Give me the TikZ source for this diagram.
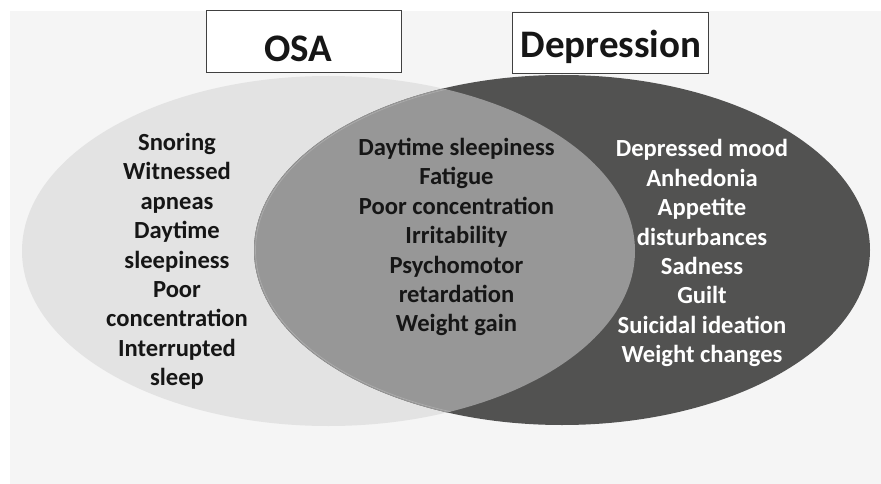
\documentclass[tikz,border=0pt]{standalone}
\usepackage{fontspec}
\setmainfont{Carlito}
\definecolor{bgpanel}{HTML}{F5F5F5}
\definecolor{osafill}{HTML}{E3E3E3}
\definecolor{depfill}{HTML}{525251}
\definecolor{bothfill}{HTML}{979797}
\definecolor{rimline}{HTML}{ABABAB}
\definecolor{inktext}{HTML}{161616}
\tikzset{
  titlebox/.style={draw=black!75, line width=0.8pt, fill=white, inner sep=0pt, anchor=north west},
  titletext/.style={font=\fontsize{39}{46}\selectfont\bfseries, text=inktext, inner sep=0pt, anchor=base},
  listtext/.style={font=\fontsize{24.6}{29.4}\selectfont\bfseries, align=center, inner sep=0pt, anchor=north},
}
\begin{document}
\begin{tikzpicture}[x=1pt, y=-1pt]
  % page and grey panel
  \useasboundingbox (0,0) rectangle (881,484);
  \fill[white] (0,0) rectangle (881,484);
  \fill[bgpanel] (10,11) rectangle (881,484);

  % the two sets
  \fill[osafill] (328.5,251) ellipse [x radius=306.5pt, y radius=175pt];
  \fill[depfill] (562,250) ellipse [x radius=308pt, y radius=175pt];
  % their overlap
  \begin{scope}
    \clip (328.5,251) ellipse [x radius=306.5pt, y radius=175pt];
    \fill[bothfill] (562,250) ellipse [x radius=308pt, y radius=175pt];
    \draw[rimline, line width=0.7pt] (562,250) ellipse [x radius=306.5pt, y radius=173.5pt];
  \end{scope}

  % headings
  \node[titlebox, minimum width=195pt, minimum height=62pt] (osabox) at (206,10) {};
  \node[titlebox, minimum width=196pt, minimum height=61pt] (depbox) at (512,12) {};
  \node[titletext] (osatitle) at (298.5,62) {OSA};
  \node[titletext] (deptitle) at (611,57.5) {Depression};

  % symptom lists
  \node[listtext, text=inktext] (osalist) at (177,133)
    {Snoring\\Witnessed\\apneas\\Daytime\\sleepiness\\Poor\\concentration\\Interrupted\\sleep};
  \node[listtext, text=inktext] (bothlist) at (456.5,138)
    {Daytime sleepiness\\Fatigue\\Poor concentration\\Irritability\\Psychomotor\\retardation\\Weight gain};
  \node[listtext, text=white] (deplist) at (702,139.5)
    {Depressed mood\\Anhedonia\\Appetite\\disturbances\\Sadness\\Guilt\\Suicidal ideation\\Weight changes};
\end{tikzpicture}
\end{document}
